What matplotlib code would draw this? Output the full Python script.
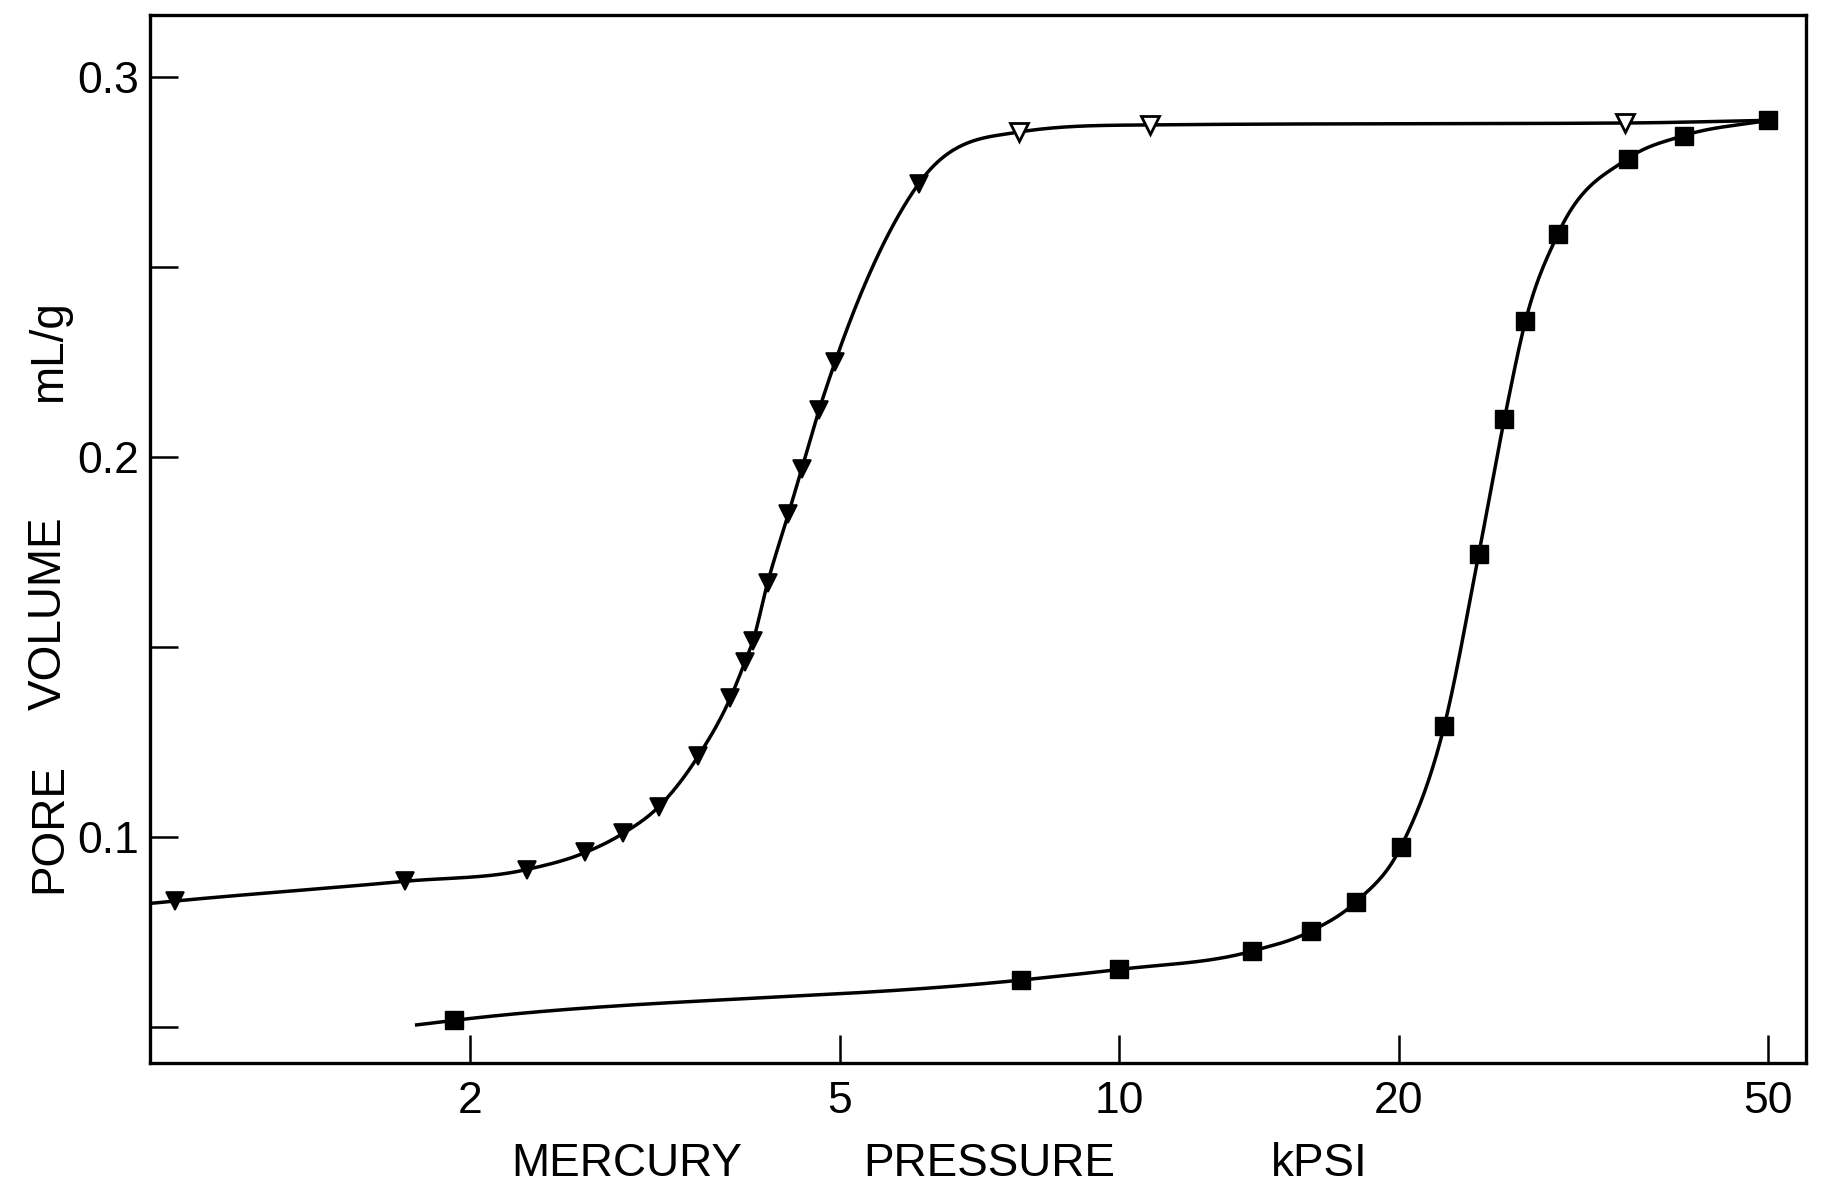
import numpy as np
import matplotlib
matplotlib.use("Agg")
from matplotlib import pyplot as plt
from matplotlib.ticker import NullLocator

# triangles (first sample), kPSI / mL/g
tri_p = [0.96, 1.70, 2.30, 2.66, 2.92, 3.19, 3.52, 3.81, 3.95, 4.03, 4.18,
         4.40, 4.55, 4.75, 4.94, 6.08, 7.79, 10.8, 35.1]
tri_v = [0.0832, 0.0884, 0.0915, 0.0960, 0.1010, 0.1080, 0.1214, 0.1366,
         0.1460, 0.1516, 0.1670, 0.1850, 0.1970, 0.2125, 0.2250, 0.2720,
         0.2856, 0.2875, 0.2880]
tri_open = [False] * 16 + [True] * 3

# squares (second sample)
sq_p = [1.92, 7.84, 10.0, 13.9, 16.1, 18.0, 20.1, 22.4, 24.4, 26.0, 27.4,
        29.7, 35.3, 40.6, 50.0]
sq_v = [0.0518, 0.0624, 0.0652, 0.0700, 0.0753, 0.0830, 0.0973, 0.1293,
        0.1745, 0.2100, 0.2359, 0.2588, 0.2786, 0.2847, 0.2887]

# where the drawn curves begin / end beyond the markers
tri_line_start = (0.905, 0.0826)
tri_line_end = (50.0, 0.2887)
sq_line_start = (1.75, 0.0506)

x_ticks = [2, 5, 10, 20, 50]
y_ticks = [0.05, 0.10, 0.15, 0.20, 0.25, 0.30]
y_labels = ["", "0.1", "", "0.2", "", "0.3"]


def monotone_curve(x, y, xn):
    # Fritsch-Carlson: centred slopes, then limited so nothing overshoots
    x = np.asarray(x, float)
    y = np.asarray(y, float)
    h = np.diff(x)
    d = np.diff(y) / h
    n = len(x)
    m = np.zeros(n)
    m[0] = d[0]
    m[-1] = d[-1]
    for k in range(1, n - 1):
        if d[k - 1] * d[k] <= 0:
            m[k] = 0
        else:
            m[k] = (h[k] * d[k - 1] + h[k - 1] * d[k]) / (h[k] + h[k - 1])
    for k in range(n - 1):
        if d[k] == 0:
            m[k] = m[k + 1] = 0
            continue
        a = m[k] / d[k]
        b = m[k + 1] / d[k]
        r = a * a + b * b
        if r > 9:
            tau = 3 / np.sqrt(r)
            m[k] = tau * a * d[k]
            m[k + 1] = tau * b * d[k]
    idx = np.clip(np.searchsorted(x, xn) - 1, 0, n - 2)
    t = (xn - x[idx]) / h[idx]
    h00 = 2 * t**3 - 3 * t**2 + 1
    h10 = t**3 - 2 * t**2 + t
    h01 = -2 * t**3 + 3 * t**2
    h11 = t**3 - t**2
    return (h00 * y[idx] + h10 * h[idx] * m[idx]
            + h01 * y[idx + 1] + h11 * h[idx] * m[idx + 1])


def smooth_curve(px, pv):
    lx = np.log10(px)
    xn = np.linspace(lx[0], lx[-1], 1000)
    return 10 ** xn, monotone_curve(lx, pv, xn)


font = ["Liberation Sans", "DejaVu Sans"]
plt.rcParams["font.family"] = font

fig = plt.figure(figsize=(18.22, 11.92), dpi=100)
ax = fig.add_axes([0.0823, 0.108, 0.9087, 0.879])

# curves
tx = [tri_line_start[0]] + tri_p + [tri_line_end[0]]
ty = [tri_line_start[1]] + tri_v + [tri_line_end[1]]
cx, cy = smooth_curve(tx, ty)
ax.plot(cx, cy, color="black", lw=2.5, zorder=2)

sx = [sq_line_start[0]] + sq_p
sy = [sq_line_start[1]] + sq_v
cx, cy = smooth_curve(sx, sy)
ax.plot(cx, cy, color="black", lw=2.5, zorder=2)

# markers
tri_p = np.array(tri_p)
tri_v = np.array(tri_v)
op = np.array(tri_open)
ax.plot(tri_p[~op], tri_v[~op], "v", color="black", ms=12.5, mew=1.2,
        linestyle="none", zorder=3)
ax.plot(tri_p[op], tri_v[op], "v", mfc="white", mec="black", ms=12.5, mew=2,
        linestyle="none", zorder=3)
ax.plot(sq_p, sq_v, "s", color="black", ms=12.5, linestyle="none", zorder=3)

ax.set_xscale("log")
ax.set_xlim(0.903, 54.9)
ax.set_ylim(0.0405, 0.3163)

ax.set_xticks(x_ticks)
ax.set_xticklabels([str(t) for t in x_ticks])
ax.xaxis.set_minor_locator(NullLocator())
ax.set_yticks(y_ticks)
ax.set_yticklabels(y_labels)

ax.tick_params(axis="both", direction="in", length=20, width=1.8,
               labelsize=32, colors="black")
ax.tick_params(axis="x", pad=13)
ax.tick_params(axis="y", pad=8)
for s in ax.spines.values():
    s.set_linewidth(2.4)

# axis titles, spaced words as on the original
fs = 33
fig.text(0.344, 0.0235, "MERCURY", ha="center", va="center", fontsize=fs)
fig.text(0.543, 0.0235, "PRESSURE", ha="center", va="center", fontsize=fs)
fig.text(0.724, 0.0235, "kPSI", ha="center", va="center", fontsize=fs)

fig.text(0.027, 1 - 828 / 1192, "PORE", ha="center", va="center",
         rotation=90, fontsize=fs)
fig.text(0.027, 1 - 613 / 1192, "VOLUME", ha="center", va="center",
         rotation=90, fontsize=fs)
fig.text(0.027, 1 - 351 / 1192, "mL/g", ha="center", va="center",
         rotation=90, fontsize=fs)

fig.savefig("out.png", dpi=100)
